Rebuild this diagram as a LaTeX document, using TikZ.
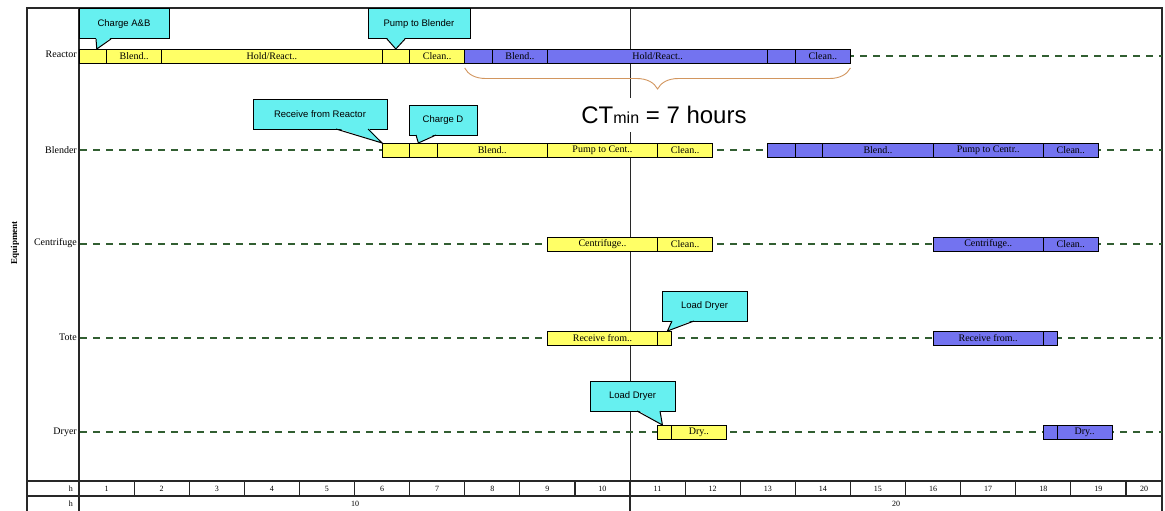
\documentclass[tikz,border=0pt]{standalone}
\usepackage{fontspec}
\setmainfont{Liberation Serif}
\newfontfamily\arialf{Liberation Sans}
\usetikzlibrary{decorations.pathreplacing,calc}
\definecolor{segyel}{RGB}{255,255,102}
\definecolor{segblu}{RGB}{115,115,240}
\definecolor{calcyan}{RGB}{102,240,240}
\definecolor{dashgr}{RGB}{50,95,50}
\definecolor{bracec}{RGB}{210,150,95}
\definecolor{framec}{RGB}{40,40,40}
\newcommand\segfont{\fontsize{10}{11}\selectfont}
\newcommand\barseg[6]{%
 \pgfmathsetmacro\sxa{79+55.1*#2}%
 \pgfmathsetmacro\sxb{79+55.1*#3}%
 \pgfmathsetmacro\sxm{(\sxa+\sxb)/2}%
 \pgfmathsetlengthmacro\sxw{(\sxb-\sxa)*1pt}%
 \node[segbox, fill=#5, minimum width=\sxw] (#1) at (\sxm,#4) {#6};}
\newcommand\callptr[4]{%
 \fill[calcyan] (#2,#1-1.3) -- #4 -- (#3,#1-1.3) -- cycle;
 \draw[line width=1pt, line join=miter] (#2,#1) -- #4 -- (#3,#1);}
\begin{document}
\begin{tikzpicture}[x=1pt,y=-1pt,
  segbox/.style={draw=black, line width=0.9pt, minimum height=14pt, inner sep=0pt, outer sep=0pt, font=\segfont},
  callbox/.style={draw=black, line width=1pt, fill=calcyan, inner sep=0pt, outer sep=0pt, font=\arialf\fontsize{9.5}{10}\selectfont},
  eqlabel/.style={anchor=east, inner sep=0pt, font=\fontsize{10}{11}\selectfont},
  tablabel/.style={inner sep=0pt, font=\fontsize{8}{9}\selectfont},
  dashline/.style={dashgr, line width=1.4pt, dash pattern=on 7pt off 6pt},
  frameline/.style={framec, line width=1.2pt}]
\useasboundingbox (0,0) rectangle (1165,511);
\fill[white] (0,0) rectangle (1165,511);
% frame and grid
\draw[frameline] (27,515) -- (27,8) -- (1162,8) -- (1162,515);
\draw[frameline] (79,8) -- (79,515);
\draw[framec, line width=0.8pt] (630,8) -- (630,481);
\draw[frameline] (630,481) -- (630,515);
\draw[frameline, line width=1.6pt] (27,481) -- (1162,481);
\draw[frameline, line width=1.6pt] (27,496) -- (1162,496);
\foreach \k in {1,...,19} {\draw[frameline] ({79+55.1*\k},481) -- ({79+55.1*\k},496);}
% table labels
\node[tablabel, anchor=east] (h1) at (73,488.5) {h};
\node[tablabel, anchor=east] (h2) at (73,503.5) {h};
\foreach \k in {1,...,19} {\node[tablabel] (n\k) at ({79+55.1*(\k-0.5)},488.5) {\k};}
\node[tablabel] (n20) at (1144,488.5) {20};
\node[tablabel] (m10) at (355,503.5) {10};
\node[tablabel] (m20) at (896,503.5) {20};
% equipment labels
\node[inner sep=0pt, rotate=90, font=\bfseries\fontsize{9}{10}\selectfont] (eq) at (15,243) {Equipment};
\node[eqlabel] (lr) at (77,54) {Reactor};
\node[eqlabel] (lb) at (77,150) {Blender};
\node[eqlabel] (lc) at (77,243) {Centrifuge};
\node[eqlabel] (lt) at (77,337) {Tote};
\node[eqlabel] (ld) at (77,432) {Dryer};
% dashed lines
\foreach \yy in {56,150,244,338,432} {\draw[dashline] (80,\yy) -- (1162,\yy);}
% Reactor
\barseg{r1}{0}{0.5}{56}{segyel}{}
\barseg{r2}{0.5}{1.5}{56}{segyel}{Blend..}
\barseg{r3}{1.5}{5.5}{56}{segyel}{Hold/React..}
\barseg{r4}{5.5}{6}{56}{segyel}{}
\barseg{r5}{6}{7}{56}{segyel}{Clean..}
\barseg{rb1}{7}{7.5}{56}{segblu}{}
\barseg{rb2}{7.5}{8.5}{56}{segblu}{Blend..}
\barseg{rb3}{8.5}{12.5}{56}{segblu}{Hold/React..}
\barseg{rb4}{12.5}{13}{56}{segblu}{}
\barseg{rb5}{13}{14}{56}{segblu}{Clean..}
% Blender
\barseg{b1}{5.5}{6}{150}{segyel}{}
\barseg{b2}{6}{6.5}{150}{segyel}{}
\barseg{b3}{6.5}{8.5}{150}{segyel}{Blend..}
\barseg{b4}{8.5}{10.5}{150}{segyel}{Pump to Cent..}
\barseg{b5}{10.5}{11.5}{150}{segyel}{Clean..}
\barseg{bb1}{12.5}{13}{150}{segblu}{}
\barseg{bb2}{13}{13.5}{150}{segblu}{}
\barseg{bb3}{13.5}{15.5}{150}{segblu}{Blend..}
\barseg{bb4}{15.5}{17.5}{150}{segblu}{Pump to Centr..}
\barseg{bb5}{17.5}{18.5}{150}{segblu}{Clean..}
% Centrifuge
\barseg{cf1}{8.5}{10.5}{244}{segyel}{Centrifuge..}
\barseg{cf2}{10.5}{11.5}{244}{segyel}{Clean..}
\barseg{cfb1}{15.5}{17.5}{244}{segblu}{Centrifuge..}
\barseg{cfb2}{17.5}{18.5}{244}{segblu}{Clean..}
% Tote
\barseg{t1}{8.5}{10.5}{338}{segyel}{Receive from..}
\barseg{t2}{10.5}{10.75}{338}{segyel}{}
\barseg{tb1}{15.5}{17.5}{338}{segblu}{Receive from..}
\barseg{tb2}{17.5}{17.75}{338}{segblu}{}
% Dryer
\barseg{d1}{10.5}{10.75}{432}{segyel}{}
\barseg{d2}{10.75}{11.75}{432}{segyel}{Dry..}
\barseg{db1}{17.5}{17.75}{432}{segblu}{}
\barseg{db2}{17.75}{18.75}{432}{segblu}{Dry..}
% brace
\draw[bracec, line width=0.9pt, decorate, decoration={brace, mirror, amplitude=21pt}]
  ([yshift=-5pt]rb1.south west) -- ([yshift=-5pt]rb5.south east);
% cycle time
\node[fill=white, inner xsep=2pt, minimum height=34pt, font=\arialf\fontsize{24}{26}\selectfont] (ct) at (664,115)
  {CT{\fontsize{16}{16}\selectfont min} = 7 hours};
% callouts
\node[callbox, minimum width=90pt, minimum height=30pt] (k1) at (124,24) {Charge A\&B};
\callptr{39}{96}{111}{([xshift=4pt]r1.north)}
\node[callbox, minimum width=102pt, minimum height=30pt] (k2) at (419,24) {Pump to Blender};
\callptr{39}{387}{405}{(r4.north)}
\node[callbox, minimum width=134pt, minimum height=30pt] (k3) at (320,114) {Receive from Reactor};
\callptr{129}{336}{368}{(b1.north west)}
\node[callbox, minimum width=68pt, minimum height=30pt] (k4) at (443,120) {Charge D};
\callptr{135}{416}{436}{([xshift=-5pt]b2.north)}
\node[callbox, minimum width=85pt, minimum height=30pt] (k5) at (704.5,306) {Load Dryer};
\callptr{321}{672}{694}{([xshift=3pt]t2.north)}
\node[callbox, minimum width=85pt, minimum height=30pt] (k6) at (632.5,396) {Load Dryer};
\callptr{411}{637}{660}{([xshift=-2pt]d1.north)}
\end{tikzpicture}
\end{document}
